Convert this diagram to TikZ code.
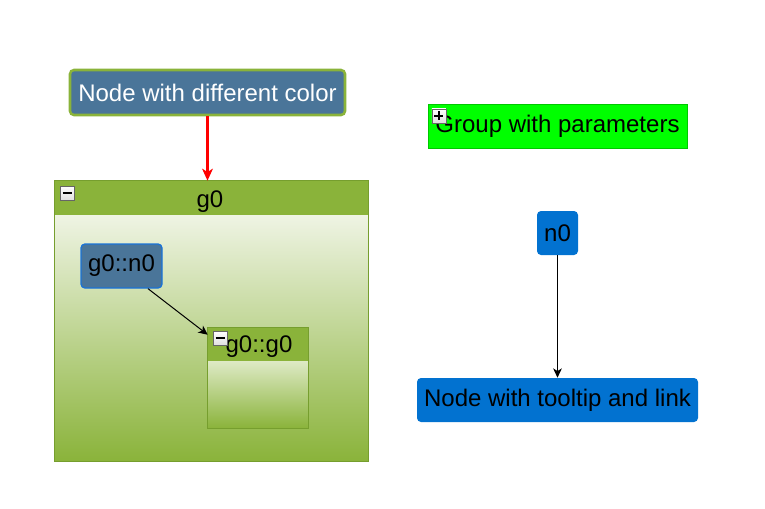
\documentclass[tikz,border=0pt]{standalone}
\usepackage{fontspec}
\setmainfont{Liberation Sans}
\usetikzlibrary{arrows.meta,calc}
\definecolor{steel}{RGB}{74,117,153}
\definecolor{grass}{RGB}{138,179,58}
\definecolor{grassdk}{RGB}{118,158,46}
\definecolor{lightg}{RGB}{239,244,228}
\definecolor{lightg2}{RGB}{222,234,198}
\definecolor{blu}{RGB}{2,114,208}
\definecolor{bluedge}{RGB}{26,115,215}
\definecolor{lime}{RGB}{0,255,0}
\definecolor{limedk}{RGB}{0,200,0}
\tikzset{
  txt/.style={font=\fontsize{18}{21}\selectfont, inner sep=0pt},
  steelbox/.style={txt, rectangle, rounded corners=3pt, fill=steel},
  bluebox/.style={txt, rectangle, rounded corners=3pt, fill=blu, text=black},
  anchorbox/.style={rectangle, inner sep=0pt, draw=none},
  grpborder/.style={draw=grassdk, line width=0.75pt},
  btn/.style={rectangle, inner sep=0pt, minimum size=10.5pt, draw=gray!80!black, line width=0.6pt, top color=white, bottom color=gray!25},
  redarrow/.style={draw=red, line width=1.9pt, -{Stealth[length=9pt,width=8pt,inset=2.5pt]}},
  blackarrow/.style={draw=black, line width=0.75pt, -{Stealth[length=7pt,width=6.5pt,inset=2pt]}},
}
\begin{document}
\begin{tikzpicture}[x=0.75pt,y=-0.75pt]
\useasboundingbox[fill=white] (0,0) rectangle (765,508);

% group g0
\node[anchorbox, minimum width=234.75pt, minimum height=210pt] (g0) at (211.5,321) {};
\shade[top color=lightg, bottom color=grass] ($(g0.north west)+(0,34)$) rectangle (g0.south east);
\fill[grass] (g0.north west) rectangle ($(g0.north east)+(0,34)$);
\draw[grpborder] (g0.north west) rectangle (g0.south east);
\node[txt] (g0t) at (210,202) {g0};
\node[btn, anchor=north west] (b1) at ($(g0.north west)+(5,5)$) {};
\draw[line width=1.7pt] ($(b1.center)+(-4.5,0)$) -- ($(b1.center)+(4.5,0)$);

% node with different color
\node[steelbox, draw=grass, line width=1.9pt, text=white, minimum width=206.25pt, minimum height=33.75pt] (ndc) at (207.5,92.5) {Node with different color};

% g0::n0
\node[steelbox, draw=bluedge, line width=1pt, minimum width=60.75pt, minimum height=33pt] (g0n0) at (121.5,266) {g0::n0};

% group g0::g0
\node[anchorbox, minimum width=75pt, minimum height=75pt] (g0g0) at (258,378) {};
\shade[top color=lightg2, bottom color=grass] ($(g0g0.north west)+(0,33)$) rectangle (g0g0.south east);
\fill[grass] (g0g0.north west) rectangle ($(g0g0.north east)+(0,33)$);
\draw[grpborder] (g0g0.north west) rectangle (g0g0.south east);
\node[txt] (g0g0t) at (259,347) {g0::g0};
\node[btn, anchor=north west] (b2) at ($(g0g0.north west)+(5,3)$) {};
\draw[line width=1.7pt] ($(b2.center)+(-4.5,0)$) -- ($(b2.center)+(4.5,0)$);

% group with parameters
\node[txt, rectangle, fill=lime, draw=limedk, line width=0.75pt, minimum width=194.25pt, minimum height=33pt] (gwp) at (557.5,126) {Group with parameters};
\node[btn, anchor=north west] (b3) at ($(gwp.north west)+(4,5)$) {};
\draw[line width=1.7pt] ($(b3.center)+(-4.5,0)$) -- ($(b3.center)+(4.5,0)$);
\draw[line width=1.7pt] ($(b3.center)+(0,-4.5)$) -- ($(b3.center)+(0,4.5)$);

% n0 and tooltip node
\node[bluebox, minimum width=30.75pt, minimum height=33pt] (n0) at (557.5,233) {n0};
\node[bluebox, minimum width=210.75pt, minimum height=33pt] (nttl) at (557.5,400) {Node with tooltip and link};

% connectors
\draw[redarrow] (ndc.south) -- (ndc.south |- g0.north);
\draw[blackarrow] ($(g0n0.south)+(26.5,0)$) -- ($(g0g0.north west)+(0,7)$);
\draw[blackarrow] (n0.south) -- (nttl.north);
\end{tikzpicture}
\end{document}
